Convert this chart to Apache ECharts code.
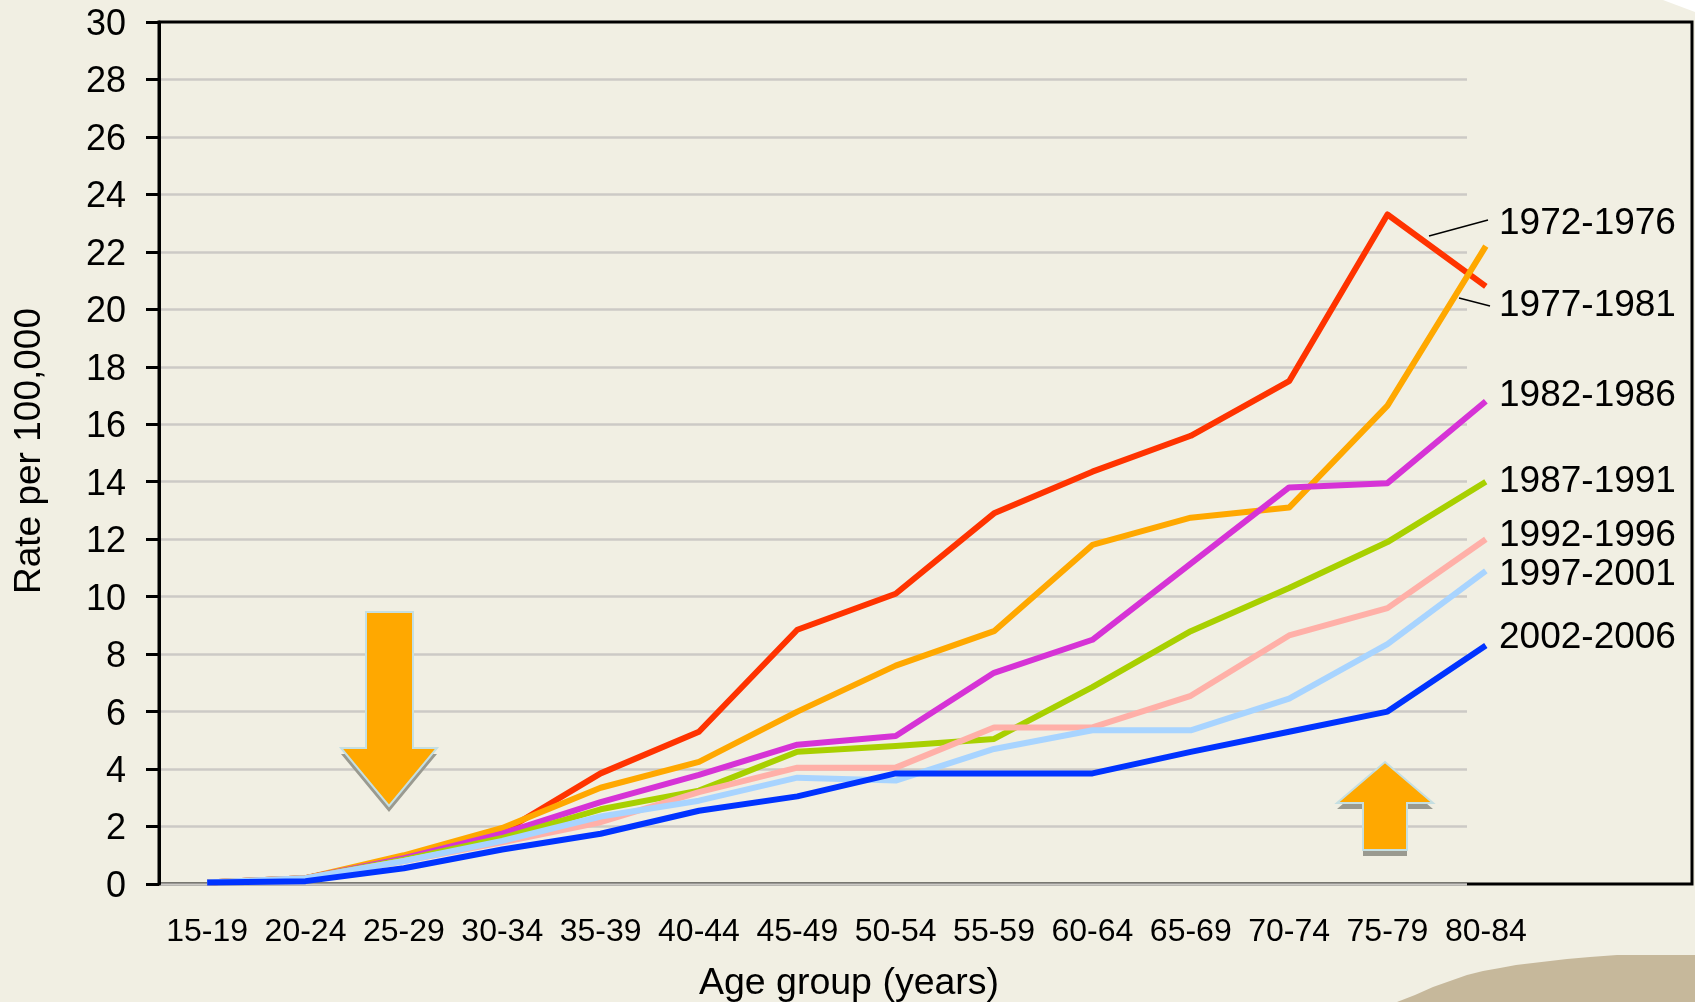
<!DOCTYPE html>
<html>
<head>
<meta charset="utf-8">
<style>
	html,body{margin:0;padding:0;background:#f1efe3;}
	#main{width:1695px;height:1002px;}
</style>
<script src="https://cdn.jsdelivr.net/npm/echarts@6/dist/echarts.min.js"></script>
</head>
<body>
<div id="main"></div>
<script>
var ageGroups = ['15-19','20-24','25-29','30-34','35-39','40-44','45-49','50-54','55-59','60-64','65-69','70-74','75-79','80-84'];
var periods = ['1972-1976','1977-1981','1982-1986','1987-1991','1992-1996','1997-2001','2002-2006'];
var rate1972 = [0.05,0.2,0.9,1.8,3.85,5.3,8.85,10.1,12.9,14.35,15.6,17.5,23.3,20.8];
var rate1977 = [0.05,0.2,1.0,1.95,3.35,4.25,6.0,7.6,8.8,11.8,12.75,13.1,16.65,22.2];
var rate1982 = [0.05,0.2,0.9,1.75,2.85,3.8,4.85,5.15,7.35,8.5,11.15,13.8,13.95,16.8];
var rate1987 = [0.05,0.2,0.85,1.6,2.6,3.25,4.6,4.8,5.05,6.85,8.8,10.3,11.9,14.0];
var rate1992 = [0.05,0.2,0.8,1.45,2.15,3.2,4.05,4.05,5.45,5.45,6.55,8.65,9.6,12.0];
var rate1997 = [0.05,0.2,0.8,1.5,2.35,2.9,3.7,3.6,4.7,5.35,5.35,6.45,8.35,10.9];
var rate2002 = [0.05,0.1,0.55,1.2,1.75,2.55,3.05,3.85,3.85,3.85,4.6,5.3,6.0,8.3];
var rates = [rate1972,rate1977,rate1982,rate1987,rate1992,rate1997,rate2002];
var colors = ['#ff3300','#ffa800','#d633d6','#a8d000','#ffb0a8','#a8d4ff','#0033ff'];
var labelY = [224,306,396,482,536,575,638];

var font = '"Liberation Sans", Arial, sans-serif';
var myChart = echarts.init(document.getElementById('main'));

var series = [];
for(var i=0;i<periods.length;i++){
	series.push({
		name:periods[i],
		type:'line',
		xAxisIndex:1,
		yAxisIndex:1,
		data:rates[i],
		showSymbol:false,
		clip:false,
		animation:false,
		lineStyle:{color:colors[i],width:6,cap:'butt',join:'round'}
	});
}

// period labels on the right
var graphics = [];
for(var j=0;j<periods.length;j++){
	graphics.push({
		type:'text',z:5,x:1499,y:labelY[j],
		style:{text:periods[j],font:'37px '+font,fill:'#000',verticalAlign:'middle'}
	});
}
// leader lines
graphics.push({type:'line',z:5,shape:{x1:1429,y1:236,x2:1488,y2:220},style:{stroke:'#000',lineWidth:1.5}});
graphics.push({type:'line',z:5,shape:{x1:1459,y1:298,x2:1490,y2:306},style:{stroke:'#000',lineWidth:1.5}});
// frame
graphics.push({type:'rect',z:-1,shape:{x:159,y:22,width:1533,height:862},style:{fill:'none',stroke:'#000',lineWidth:3}});
// page corners
graphics.push({type:'polygon',z:-2,shape:{points:[[1397,1002],[1415,995],[1433,987],[1450,981],[1467,975],[1483,971],[1500,968],[1516,965],[1533,963],[1550,961],[1567,959],[1590,957],[1617,955],[1695,955],[1695,1002]]},style:{fill:'#c6b89b'}});
graphics.push({type:'polygon',z:-2,shape:{points:[[1663,0],[1695,0],[1695,12]]},style:{fill:'#ffffff'}});
// arrows
var downArrow = [[366,612],[413,612],[413,748],[437,748],[389,806],[341,748],[366,748]];
var upArrow = [[1385,762],[1433,803],[1407,803],[1407,850],[1363,850],[1363,803],[1337,803]];
function addArrow(points){
	var shadow = [];
	for(var k=0;k<points.length;k++){
		shadow.push([points[k][0],points[k][1]+6]);
	}
	graphics.push({type:'polygon',z:6,shape:{points:shadow},style:{fill:'#9a9a90'}});
	graphics.push({type:'polygon',z:7,shape:{points:points},style:{fill:'#ffa800',stroke:'#c5dfe2',lineWidth:2}});
}
addArrow(downArrow);
addArrow(upArrow);

var option = {
	backgroundColor:'#f1efe3',
	animation:false,
	grid:[
		{left:159,top:22,width:1308,height:862,outerBoundsMode:'none'},
		{left:158,top:22,width:1377,height:862,outerBoundsMode:'none'}
	],
	xAxis:[
		{
			type:'category',gridIndex:0,data:ageGroups,
			axisLine:{show:false},axisTick:{show:false},axisLabel:{show:false}
		},
		{
			type:'category',gridIndex:1,data:ageGroups,boundaryGap:true,
			axisLine:{show:false},axisTick:{show:false},
			axisLabel:{color:'#000',fontFamily:font,fontSize:32,margin:32,interval:0},
			name:'Age group (years)',nameLocation:'middle',nameGap:81,
			nameTextStyle:{color:'#000',fontFamily:font,fontSize:37.5,padding:[0,0,0,5]}
		}
	],
	yAxis:[
		{
			type:'value',gridIndex:0,min:0,max:30,interval:2,
			axisLine:{show:true,lineStyle:{color:'#000',width:3}},
			axisTick:{show:true,length:13,lineStyle:{color:'#000',width:3}},
			axisLabel:{
				color:'#000',fontFamily:font,fontSize:36,margin:33,
				formatter:'{t|{value}}',
				rich:{t:{color:'#000',fontFamily:font,fontSize:36,padding:[6,0,0,0]}}
			},
			splitLine:{show:true,showMaxLine:false,lineStyle:{color:'#cccac6',width:2.5}},
			name:'Rate per 100,000',nameLocation:'middle',nameGap:111,
			nameTextStyle:{color:'#000',fontFamily:font,fontSize:37,padding:[0,0,0,4]}
		},
		{
			type:'value',gridIndex:1,min:0,max:30,interval:2,
			axisLine:{show:false},axisTick:{show:false},axisLabel:{show:false},splitLine:{show:false}
		}
	],
	series:series,
	graphic:{elements:graphics}
};
myChart.setOption(option);
</script>
</body>
</html>
